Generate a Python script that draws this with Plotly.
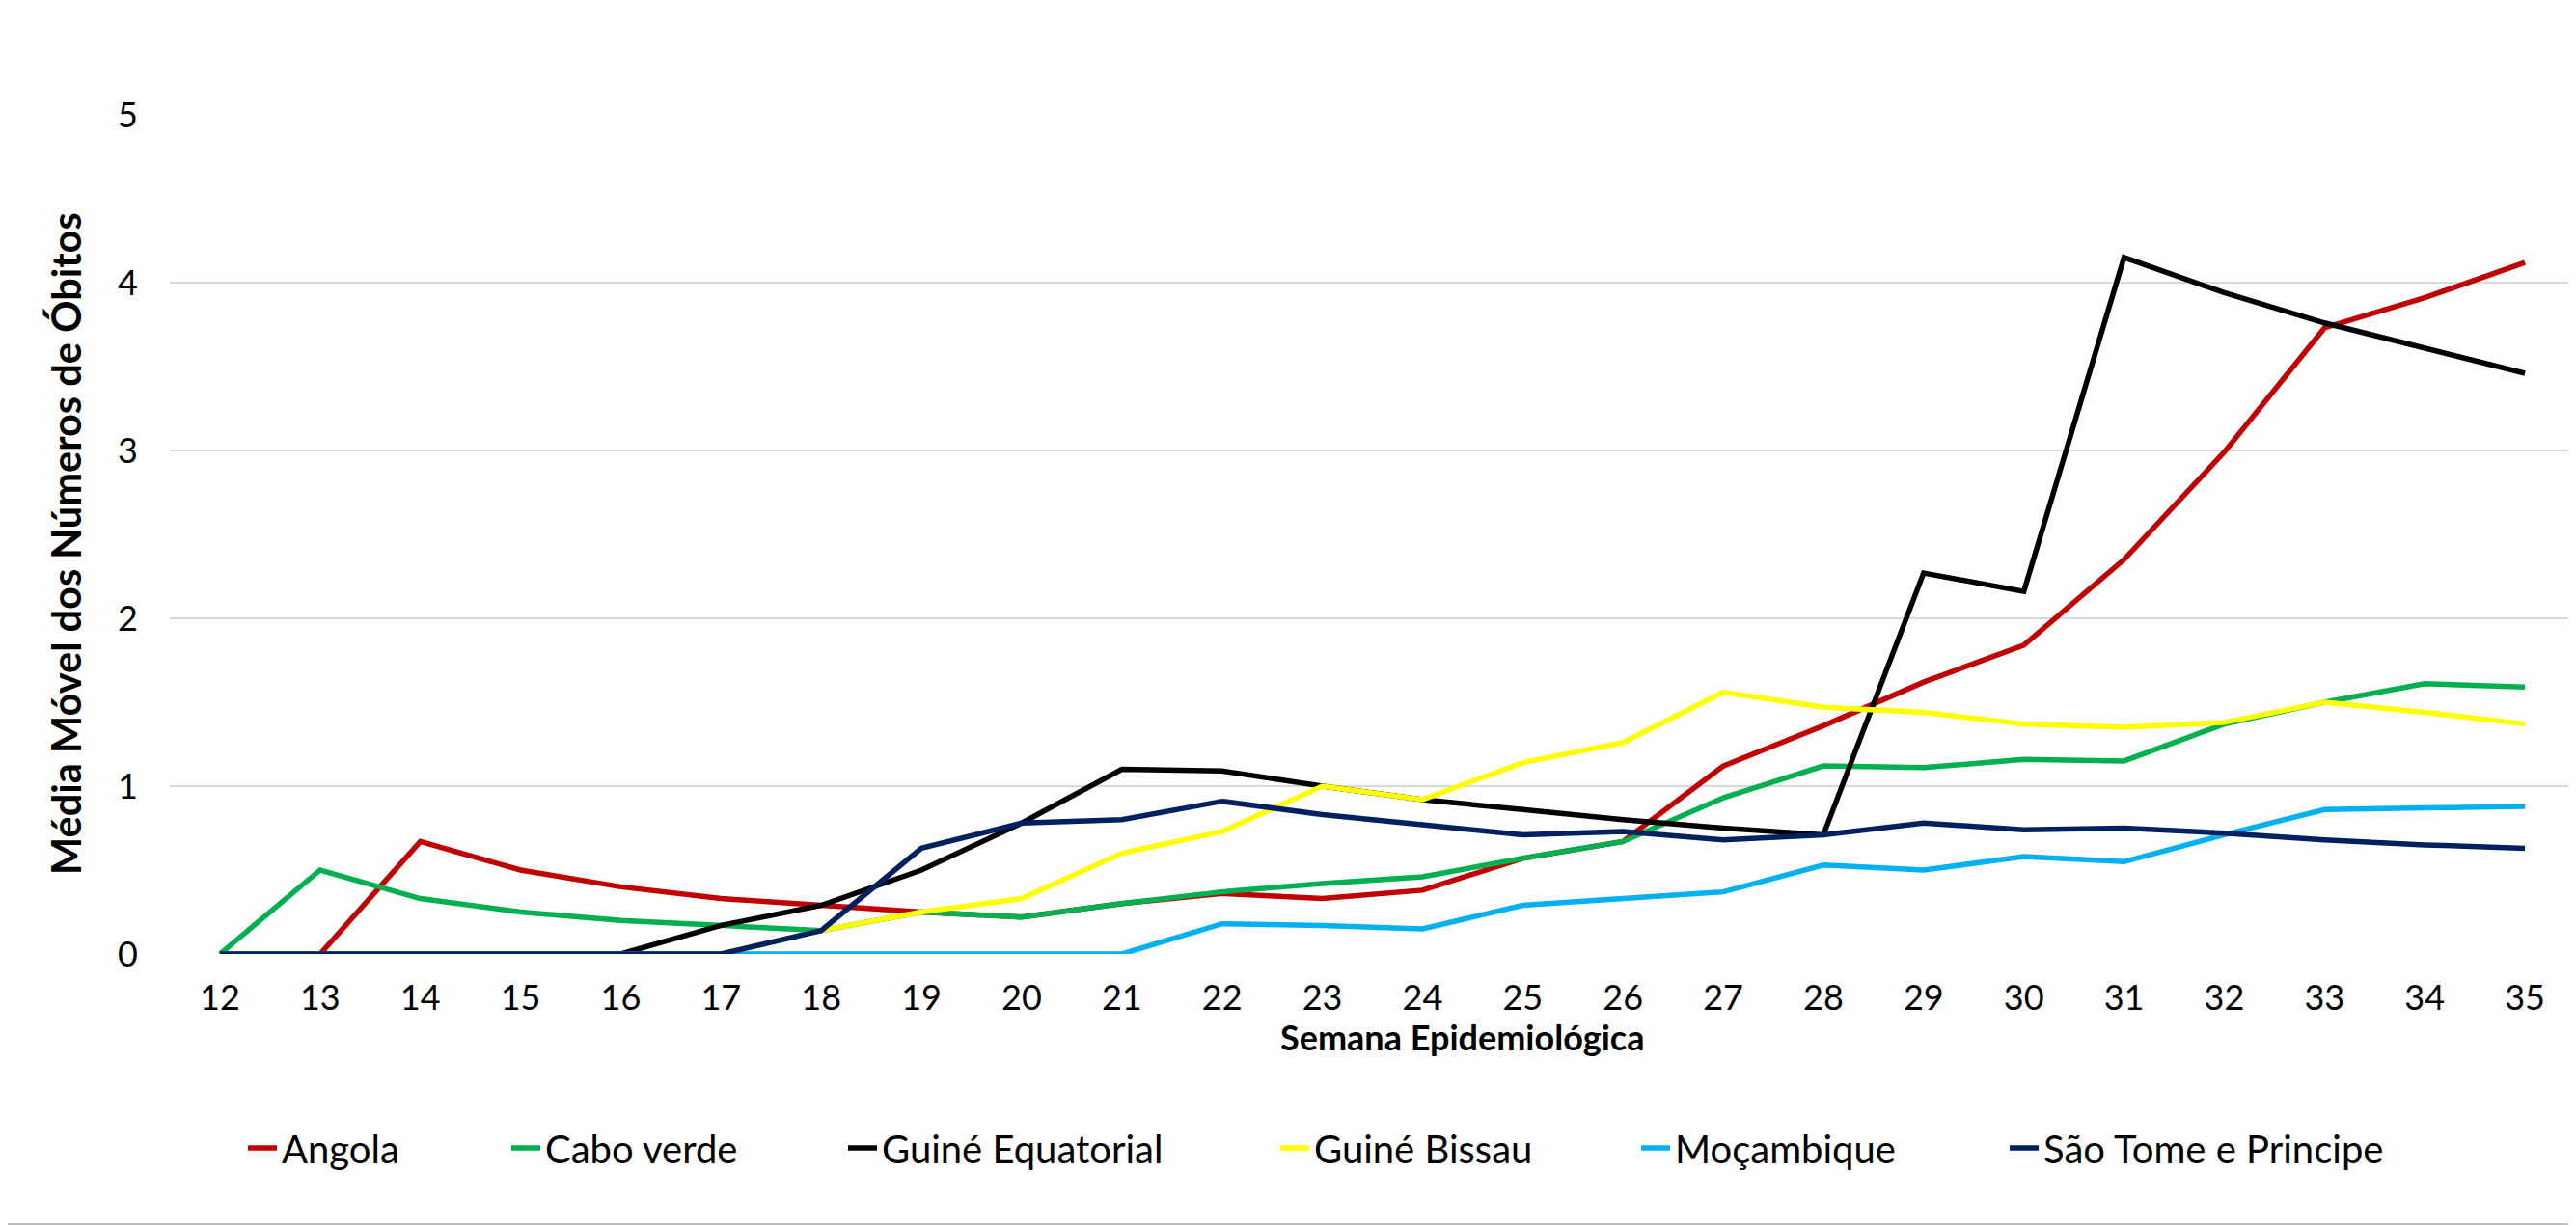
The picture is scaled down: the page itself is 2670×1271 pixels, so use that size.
import plotly.graph_objects as go

weeks = list(range(12, 36))

angola = [0, 0, 0.67, 0.5, 0.4, 0.33, 0.29, 0.25, 0.22, 0.3, 0.36, 0.33, 0.38, 0.57, 0.67,
          1.12, 1.36, 1.62, 1.84, 2.35, 2.99, 3.73, 3.91, 4.12]
cabo_verde = [0, 0.5, 0.33, 0.25, 0.2, 0.17, 0.14, 0.25, 0.22, 0.3, 0.37, 0.42, 0.46, 0.57, 0.67,
              0.93, 1.12, 1.11, 1.16, 1.15, 1.37, 1.5, 1.61, 1.59]
guine_equatorial = [0, 0, 0, 0, 0, 0.17, 0.29, 0.5, 0.78, 1.1, 1.09, 1.0, 0.92, 0.86, 0.8,
                    0.75, 0.71, 2.27, 2.16, 4.15, 3.94, 3.76, 3.61, 3.46]
guine_bissau = [0, 0, 0, 0, 0, 0, 0.14, 0.25, 0.33, 0.6, 0.73, 1.0, 0.92, 1.14, 1.26,
                1.56, 1.47, 1.44, 1.37, 1.35, 1.38, 1.5, 1.44, 1.37]
mocambique = [0, 0, 0, 0, 0, 0, 0, 0, 0, 0, 0.18, 0.17, 0.15, 0.29, 0.33,
              0.37, 0.53, 0.5, 0.58, 0.55, 0.71, 0.86, 0.87, 0.88]
sao_tome = [0, 0, 0, 0, 0, 0, 0.14, 0.63, 0.78, 0.8, 0.91, 0.83, 0.77, 0.71, 0.73,
            0.68, 0.71, 0.78, 0.74, 0.75, 0.72, 0.68, 0.65, 0.63]

series_names = ["Angola", "Cabo verde", "Guiné Equatorial", "Guiné Bissau", "Moçambique",
                "São Tome e Principe"]
series_values = [angola, cabo_verde, guine_equatorial, guine_bissau, mocambique, sao_tome]
colors = ["#C00000", "#00B050", "#000000", "#FFFF00", "#00B0F0", "#002060"]

y_ticks = [0, 1, 2, 3, 4, 5]

x_title = "Semana Epidemiológica"
y_title = "Média Móvel dos Números de Óbitos"

# The page body has an 8px default margin: work in page pixels, convert to figure pixels.
OFF = 8
PAGE_W, PAGE_H = 2670, 1271
W, H = PAGE_W - OFF, PAGE_H - OFF


def fx(p):
    return p - OFF


L, R_EDGE, T, B_EDGE = fx(176), fx(2669), fx(119), fx(989)
pw = R_EDGE - L
ph = B_EDGE - T


def px_x(p):
    return (fx(p) - L) / pw


def px_y(p):
    return (B_EDGE - fx(p)) / ph


FONT = "Lato, Carlito, Liberation Sans, sans-serif"
TICK_SIZE = 36
LEG_SIZE = 40

fig = go.Figure()
legend_px = [238, 511, 860, 1308, 1682, 2064]
legend_keys = ["legend", "legend2", "legend3", "legend4", "legend5", "legend6"]
for name, vals, col, lk in zip(series_names, series_values, colors, legend_keys):
    fig.add_trace(go.Scatter(x=weeks, y=vals, mode="lines", name=name, showlegend=True,
                             line=dict(color=col, width=5.5), legend=lk))

layout_legends = {}
for lk, p in zip(legend_keys, legend_px):
    layout_legends[lk] = dict(
        x=px_x(p + 14), xanchor="left", y=px_y(1190), yanchor="middle",
        orientation="h", bgcolor="rgba(0,0,0,0)", borderwidth=0,
        font=dict(family=FONT, size=LEG_SIZE, color="#000000"),
    )

fig.update_layout(
    width=W, height=H,
    margin=dict(l=L, r=W - R_EDGE, t=T, b=H - B_EDGE, pad=0),
    paper_bgcolor="white", plot_bgcolor="white",
    font=dict(family=FONT, size=TICK_SIZE, color="#000000"),
    showlegend=True,
    **layout_legends,
)

fig.update_xaxes(
    range=[11.5, 35.5], tickmode="array", tickvals=weeks, ticktext=[str(w) for w in weeks],
    showgrid=False, zeroline=False, showline=False, ticks="", automargin=False,
    ticklabelstandoff=21,
    tickfont=dict(family=FONT, size=TICK_SIZE, color="#000000"),
)
fig.update_yaxes(
    range=[0, 5], tickmode="array", tickvals=y_ticks, ticktext=[str(v) for v in y_ticks],
    showgrid=True, gridcolor="#D9D9D9", gridwidth=2, zeroline=False, showline=False, ticks="",
    automargin=False, ticklabelstandoff=32,
    tickfont=dict(family=FONT, size=TICK_SIZE, color="#000000"),
)

# axis titles
fig.add_annotation(text="<b>" + x_title + "</b>", xref="paper", yref="paper",
                   x=px_x(1515), y=px_y(1075), xanchor="center", yanchor="middle",
                   showarrow=False, font=dict(family=FONT, size=36, color="#000000"))
fig.add_annotation(text="<b>" + y_title + "</b>", xref="paper", yref="paper", textangle=-90,
                   x=px_x(68), y=px_y(564), xanchor="center", yanchor="middle",
                   showarrow=False, font=dict(family=FONT, size=41.5, color="#000000"))

# chart-area border (right and bottom edges visible in the page)
fig.add_shape(type="line", xref="paper", yref="paper",
              x0=px_x(2667), x1=px_x(2667), y0=px_y(1269), y1=px_y(0),
              line=dict(color="#BFBFBF", width=2))
fig.add_shape(type="line", xref="paper", yref="paper",
              x0=px_x(0), x1=px_x(2667), y0=px_y(1269), y1=px_y(1269),
              line=dict(color="#BFBFBF", width=2))

fig.write_html("out.html")
